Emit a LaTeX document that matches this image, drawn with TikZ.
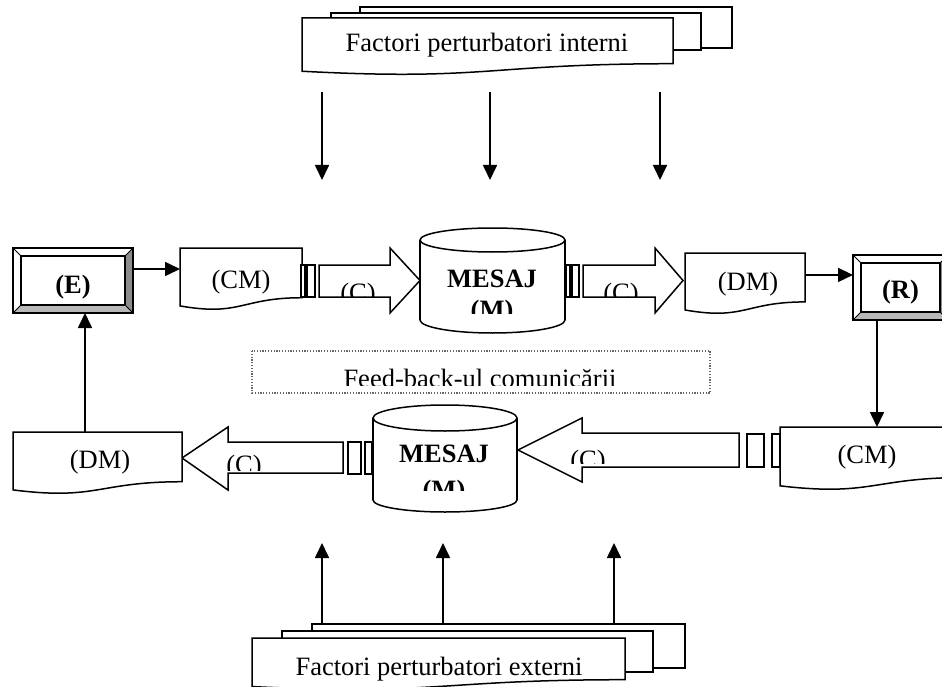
\documentclass[tikz,border=0pt]{standalone}
\usepackage{fontspec}
\setmainfont{Liberation Serif}
\usetikzlibrary{arrows.meta,calc}

% A sheet with a wavy lower edge: name, left, top, right, height, text, text x, text baseline
\newcommand\docsheet[8]{%
  \pgfmathsetmacro\dmid{(#2+#4)/2}%
  \pgfmathsetmacro\drb{#3+0.802*#5}%
  \pgfmathsetmacro\dctl{#3+1.107*#5}%
  \pgfmathsetmacro\dlb{#3+0.934*#5}%
  \pgfmathsetmacro\dw{#4-#2}%
  \pgfmathsetmacro\dh{0.802*#5}%
  \pgfmathsetmacro\dcy{#3+0.401*#5}%
  \draw[outline] (#2,#3) -- (#4,#3) -- (#4,\drb)
     .. controls (\dmid,\drb) and (\dmid,\dctl) .. (#2,\dlb) -- cycle;
  \node[inner sep=0pt, outer sep=0pt, minimum width=\dw pt, minimum height=\dh pt] (#1) at (\dmid,\dcy) {};
  \node[lbl] (#1-text) at (#7,#8) {#6};
}

% A bevelled box: name, left, top, right, bottom, label, label baseline
\newcommand\bevelbox[7]{%
  \fill[white] (#2,#3) rectangle (#4,#5);
  \fill[shadeR] (#4,#3) -- (#4,#5) -- ({#4-8},{#5-8}) -- ({#4-8},{#3+8}) -- cycle;
  \fill[shadeB] (#2,#5) -- (#4,#5) -- ({#4-8},{#5-8}) -- ({#2+8},{#5-8}) -- cycle;
  \draw[edge] (#2,#3) rectangle (#4,#5);
  \draw[edge] ({#2+8},{#3+8}) rectangle ({#4-8},{#5-8});
  \draw[thinedge] (#2,#3) -- ({#2+8},{#3+8}) (#4,#3) -- ({#4-8},{#3+8})
                  (#2,#5) -- ({#2+8},{#5-8}) (#4,#5) -- ({#4-8},{#5-8});
  \pgfmathsetmacro\bw{#4-#2}\pgfmathsetmacro\bh{#5-#3}%
  \node[inner sep=0pt, outer sep=0pt, minimum width=\bw pt, minimum height=\bh pt] (#1) at ({(#2+#4)/2},{(#3+#5)/2}) {};
  \node[blbl] (#1-text) at ({(#2+#4)/2},#7) {#6};
}

% A drum: name, centre x, half width, top y, top radius, bottom y, bottom radius
\newcommand\drum[7]{%
  \draw[outline] (#2,#6) ellipse [x radius=#3, y radius=#7];
  \fill[white] ({#2-#3},#4) rectangle ({#2+#3},#6);
  \draw[edge] ({#2-#3},#4) -- ({#2-#3},#6) ({#2+#3},#4) -- ({#2+#3},#6);
  \draw[outline] (#2,#4) ellipse [x radius=#3, y radius=#5];
  \pgfmathsetmacro\cw{2*#3}\pgfmathsetmacro\ch{#6-#4}%
  \node[inner sep=0pt, outer sep=0pt, minimum width=\cw pt, minimum height=\ch pt] (#1) at (#2,{(#4+#6)/2}) {};
}

\tikzset{
  x=1pt, y=-1pt,
  edge/.style={draw=black, line width=1.5pt},
  thinedge/.style={draw=black, line width=1pt},
  outline/.style={edge, fill=white},
  shadeR/.style={fill=black!45},
  shadeB/.style={fill=black!28},
  arr/.style={line width=1.7pt, -{Triangle[length=15pt,width=14pt]}},
  lbl/.style={inner sep=0pt, anchor=base, font=\fontsize{26.5}{31}\selectfont},
  blbl/.style={inner sep=0pt, anchor=base, font=\fontsize{26.5}{31}\selectfont\bfseries},
  fbbox/.style={draw=black!60, line width=1.2pt, dash pattern=on 1.2pt off 1.6pt},
}

\begin{document}
\begin{tikzpicture}
\useasboundingbox (0,0) rectangle (942,687);
\fill[white] (0,0) rectangle (942,687);
\clip (0,0) rectangle (942,687);

% ---------- internal disturbances (stack of sheets) ----------
\draw[outline] (360,7) rectangle (732,48);
\draw[outline] (331,13) rectangle (701,50);
\docsheet{intern}{302}{18}{673}{57}{Factori perturbatori interni}{487}{52}

\coordinate (d1s) at (322,92);  \coordinate (d1e) at (322,180);
\coordinate (d2s) at (490,92);  \coordinate (d2e) at (490,180);
\coordinate (d3s) at (660,92);  \coordinate (d3e) at (660,180);
\draw[arr] (d1s) -- (d1e);
\draw[arr] (d2s) -- (d2e);
\draw[arr] (d3s) -- (d3e);

% ---------- upper chain: E -> CM -> C -> M -> C -> DM -> R ----------
\bevelbox{E}{13}{248}{133}{313}{(E)}{293}
\docsheet{cm1}{180}{248}{302}{62}{(CM)}{241}{288}

\draw[outline] (301,265) rectangle (305,297);
\draw[outline] (307,265) rectangle (315,297);
\draw[outline] (319,265) -- (390,265) -- (390,248) -- (420,280.5) -- (390,313) -- (390,297) -- (319,297) -- cycle;
\begin{scope}
  \clip (320,266) rectangle (389,296);
  \node[lbl] (c1) at (358,301) {(C)};
\end{scope}

\drum{msg1}{492.5}{72.5}{240}{12}{320}{13}
\begin{scope}
  \clip (421,253) rectangle (564,313);
  \node[blbl] (msg1-a) at (492,287) {MESAJ};
  \node[blbl] (msg1-b) at (492,318) {(M)};
\end{scope}

\draw[outline] (566,265) rectangle (570,297);
\draw[outline] (572,265) rectangle (579,297);
\draw[outline] (583,265) -- (655,265) -- (655,248) -- (683,280.5) -- (655,313) -- (655,297) -- (583,297) -- cycle;
\begin{scope}
  \clip (584,266) rectangle (654,296);
  \node[lbl] (c2) at (621,301) {(C)};
\end{scope}

\docsheet{dm1}{685}{253}{805}{61}{(DM)}{748}{290}
\bevelbox{R}{853}{255}{948}{320}{(R)}{298}

\draw[arr] ([yshift=11.5pt]E.east) -- ([yshift=11.5pt]E.east -| cm1.west);
\draw[arr] ([yshift=2.5pt]dm1.east) -- ([yshift=2.5pt]dm1.east -| R.west);

% ---------- feedback frame ----------
\draw[fbbox] (252,351) rectangle (710,393);
\begin{scope}
  \clip (253,352) rectangle (709,385.5);
  \node[lbl] (fb) at (480,387) {Feed-back-ul comunicării};
\end{scope}

% ---------- lower chain: R -> CM -> C -> M -> C -> DM -> E ----------
\docsheet{cm2}{780}{427}{965}{63}{(CM)}{867}{463}
\draw[outline] (772,434) rectangle (780,467);
\draw[outline] (747,434) rectangle (764,467);
\draw[outline] (739,433) -- (582,433) -- (582,418) -- (518,450) -- (582,482) -- (582,467) -- (739,467) -- cycle;
\begin{scope}
  \clip (545,434) rectangle (738,463);
  \node[lbl] (c3) at (588,468) {(C)};
\end{scope}

\drum{msg2}{445}{72}{418}{13}{500}{12}
\begin{scope}
  \clip (374,431) rectangle (516,490);
  \node[blbl] (msg2-a) at (444,462) {MESAJ};
  \node[blbl] (msg2-b) at (444,498) {(M)};
\end{scope}

\draw[outline] (365,442) rectangle (372,474);
\draw[outline] (348,442) rectangle (361,474);
\draw[outline] (343,442) -- (228,442) -- (228,427) -- (182,458) -- (228,490) -- (228,473) -- (343,473) -- cycle;
\begin{scope}
  \clip (215,443) rectangle (342,470);
  \node[lbl] (c4) at (244,473) {(C)};
\end{scope}

\docsheet{dm2}{13}{432}{182}{62}{(DM)}{100}{468}

\draw[arr] ([xshift=-23.5pt]R.south) -- ([xshift=-23.5pt]R.south |- cm2.north);
\draw[arr] ([xshift=-12.5pt]dm2.north) -- ([xshift=-12.5pt]dm2.north |- E.south);

% ---------- external disturbances (stack of sheets) ----------
\draw[outline] (312,624) rectangle (685,668);
\draw[outline] (282,631) rectangle (653,672);
\docsheet{extern}{252}{638}{625}{52}{Factori perturbatori externi}{439}{675}

\coordinate (u1s) at (322,624);  \coordinate (u1e) at (322,543);
\coordinate (u2s) at (443,624);  \coordinate (u2e) at (443,543);
\coordinate (u3s) at (614,624);  \coordinate (u3e) at (614,543);
\draw[arr] (u1s) -- (u1e);
\draw[arr] (u2s) -- (u2e);
\draw[arr] (u3s) -- (u3e);
\end{tikzpicture}
\end{document}
